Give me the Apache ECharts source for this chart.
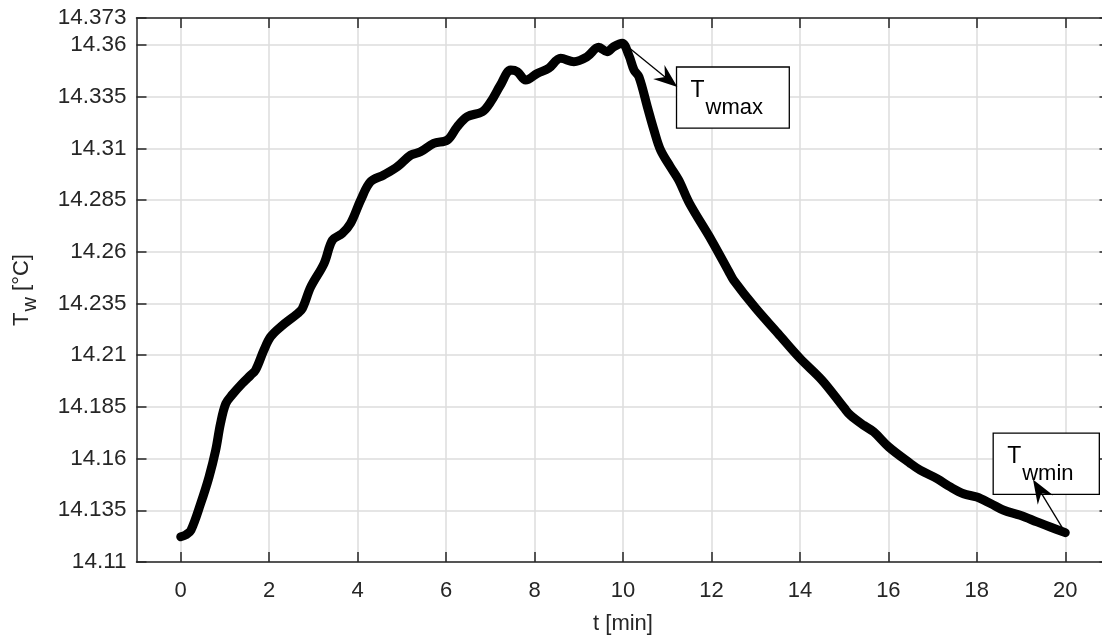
<!DOCTYPE html>
<html>
<head>
<meta charset="utf-8">
<script src="https://cdn.jsdelivr.net/npm/echarts@6/dist/echarts.min.js"></script>
<style>
html,body{margin:0;padding:0;background:#fff;}
#chart{width:1102px;height:637px;}
</style>
</head>
<body>
<div id="chart"></div>
<script>
// ---- data ----
const timeMin = [0.0, 0.12, 0.23, 0.45, 0.64, 0.79, 0.90, 1.02, 1.17, 1.39, 1.58, 1.69, 1.88, 2.03, 2.26, 2.64, 2.75, 2.94,
  3.24, 3.43, 3.65, 3.84, 4.07, 4.29, 4.59, 4.90, 5.20, 5.42, 5.72, 6.03, 6.25, 6.48, 6.82, 7.01, 7.23, 7.46, 7.61,
  7.80, 8.06, 8.32, 8.59, 8.89, 9.19, 9.45, 9.64, 9.79, 9.98, 10.13, 10.25, 10.36, 10.55, 10.70, 10.85, 11.07, 11.26,
  11.5, 12.0, 12.4, 12.5, 13.0, 13.5, 14.0, 14.5, 15.0, 15.14, 15.44, 15.67, 16.01, 16.50, 16.72, 17.10, 17.40,
  17.70, 18.00, 18.31, 18.61, 18.98, 19.36, 19.66, 20.0];
const waterTemp = [14.1222, 14.1232, 14.1253, 14.1382, 14.1511, 14.1640, 14.1770, 14.1866, 14.1910, 14.1963, 14.2003,
  14.2027, 14.2124, 14.2188, 14.2237, 14.2301, 14.2326, 14.2430, 14.2543, 14.2656, 14.2688, 14.2737, 14.2850, 14.2938,
  14.2971, 14.3011, 14.3067, 14.3083, 14.3124, 14.3140, 14.3204, 14.3253, 14.3277, 14.3325, 14.3406, 14.3478, 14.3470,
  14.3430, 14.3462, 14.3487, 14.3535, 14.3519, 14.3543, 14.3588, 14.3567, 14.3591, 14.3608, 14.3551, 14.3478, 14.3446,
  14.3301, 14.3188, 14.3091, 14.3011, 14.2946, 14.2835, 14.2656, 14.2501, 14.2463, 14.2327, 14.2206, 14.2085, 14.1979,
  14.1845, 14.1810, 14.1761, 14.1729, 14.1656, 14.1576, 14.1544, 14.1503, 14.1463, 14.1430, 14.1414, 14.1383, 14.1350,
  14.1326, 14.1294, 14.1269, 14.1242];
const xTicks = [0, 2, 4, 6, 8, 10, 12, 14, 16, 18, 20];
const yTicks = [14.11, 14.135, 14.16, 14.185, 14.21, 14.235, 14.26, 14.285, 14.31, 14.335, 14.36, 14.373];
const xRange = [-1, 21];
const yRange = [14.11, 14.373];
// annotations (data coordinates)
const annoMax = { label: 'wmax', from: [9.99, 14.3612], to: [11.23, 14.3396], box: [[11.21, 14.3493], [13.76, 14.3198]] };
const annoMin = { label: 'wmin', from: [20.0, 14.1242], to: [19.27, 14.1499], box: [[18.37, 14.1723], [20.77, 14.1427]] };

const FONT = "'Liberation Sans', Arial, Helvetica, sans-serif";
const TXT = '#262626';
const pairs = timeMin.map((t, i) => [t, waterTemp[i]]);

const chart = echarts.init(document.getElementById('chart'), null, { renderer: 'canvas' });

const commonX = {
  type: 'value', min: xRange[0], max: xRange[1],
  axisLine: { show: true, onZero: false, lineStyle: { color: TXT, width: 1.5 } },
  axisTick: { show: true, inside: true, length: 10, customValues: xTicks, lineStyle: { color: TXT, width: 1.5 } }
};
const commonY = {
  type: 'value', min: yRange[0], max: yRange[1],
  axisLine: { show: true, onZero: false, lineStyle: { color: TXT, width: 1.5 } },
  axisTick: { show: true, inside: true, length: 10, customValues: yTicks, lineStyle: { color: TXT, width: 1.5 } }
};

chart.setOption({
  animation: false,
  backgroundColor: '#fff',
  grid: { left: 136.5, top: 18, width: 973, height: 544, containLabel: false, outerBoundsMode: 'none' },
  xAxis: [
    Object.assign({}, commonX, {
      position: 'bottom',
      name: 't [min]', nameLocation: 'middle', nameGap: 51,
      nameTextStyle: { color: TXT, fontSize: 22, fontFamily: FONT },
      axisLabel: { show: true, customValues: xTicks, margin: 18, color: TXT, fontSize: 22, fontFamily: FONT },
      splitLine: { show: true, lineStyle: { color: '#dcdcdc', width: 1.5 } }
    }),
    Object.assign({}, commonX, {
      position: 'top',
      axisLabel: { show: false },
      splitLine: { show: false }
    })
  ],
  yAxis: [
    Object.assign({}, commonY, {
      position: 'left',
      name: '{t|T}{s|w}{t| [°C]}', nameLocation: 'middle', nameGap: 103,
      nameTextStyle: {
        color: TXT, fontSize: 22, fontFamily: FONT,
        rich: {
          t: { fontSize: 22, fontFamily: FONT, color: TXT, verticalAlign: 'top', lineHeight: 23 },
          s: { fontSize: 20, fontFamily: FONT, color: TXT, verticalAlign: 'top', lineHeight: 23, padding: [10, 0, 0, 1] }
        }
      },
      axisLabel: {
        show: true, customValues: yTicks, margin: 10, color: TXT, fontSize: 22.5, fontFamily: FONT,
        formatter: v => String(+Number(v).toFixed(3))
      },
      splitLine: { show: true, lineStyle: { color: '#dcdcdc', width: 1.5 } }
    }),
    Object.assign({}, commonY, {
      position: 'right',
      axisLabel: { show: false },
      splitLine: { show: false }
    })
  ],
  series: [{
    type: 'line',
    data: pairs,
    xAxisIndex: 0, yAxisIndex: 0,
    showSymbol: false,
    smooth: 0.35,
    lineStyle: { color: '#000', width: 9, cap: 'round', join: 'round' },
    clip: false,
    z: 5
  }]
});

function px(p) { return chart.convertToPixel({ gridIndex: 0 }, p); }

function annotation(a) {
  const els = [];
  const b0 = px(a.box[0]), b1 = px(a.box[1]);
  const bx = Math.min(b0[0], b1[0]), by = Math.min(b0[1], b1[1]);
  const bw = Math.abs(b1[0] - b0[0]), bh = Math.abs(b1[1] - b0[1]);
  els.push({ type: 'rect', shape: { x: bx, y: by, width: bw, height: bh },
    style: { fill: '#fff', stroke: '#000', lineWidth: 1.3 }, z: 10 });
  els.push({ type: 'text', x: bx + 14, y: by + 12,
    style: { text: 'T', font: '23px ' + FONT, fill: '#000', textVerticalAlign: 'top' }, z: 11 });
  els.push({ type: 'text', x: bx + 29, y: by + 30,
    style: { text: a.label, font: '22px ' + FONT, fill: '#000', textVerticalAlign: 'top' }, z: 11 });
  const p0 = px(a.from), p1 = px(a.to);
  const dx = p1[0] - p0[0], dy = p1[1] - p0[1];
  const len = Math.hypot(dx, dy);
  const ux = dx / len, uy = dy / len, nx = -uy, ny = ux;
  const L = 24, W = 9, N = 8;
  const notch = [p1[0] - ux * (L - N), p1[1] - uy * (L - N)];
  els.push({ type: 'line', shape: { x1: p0[0], y1: p0[1], x2: notch[0], y2: notch[1] },
    style: { stroke: '#000', lineWidth: 1.3 }, z: 12 });
  els.push({ type: 'polygon', shape: { points: [
      p1,
      [p1[0] - ux * L + nx * W, p1[1] - uy * L + ny * W],
      notch,
      [p1[0] - ux * L - nx * W, p1[1] - uy * L - ny * W]
    ] }, style: { fill: '#000' }, z: 12 });
  return els;
}

chart.setOption({ graphic: { elements: annotation(annoMax).concat(annotation(annoMin)) } });
</script>
</body>
</html>
